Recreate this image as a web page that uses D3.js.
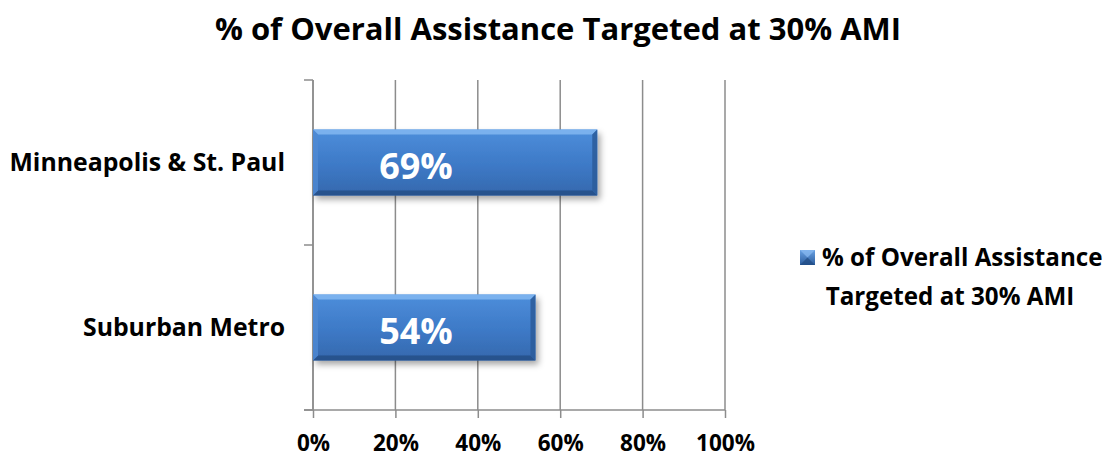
<!DOCTYPE html>
<html>
<head>
<meta charset="utf-8">
<script src="https://cdn.jsdelivr.net/npm/d3@7"></script>
<style>
  body { margin: 0; background: #fff; }
  svg { display: block; font-family: "Open Sans", sans-serif; font-weight: bold; }
</style>
</head>
<body>
<div id="chart"></div>
<script>
const categories = ['Minneapolis & St. Paul', 'Suburban Metro']
const values = [0.69, 0.54]
const valueLabels = ['69%', '54%']
const xTicks = [0, 0.2, 0.4, 0.6, 0.8, 1]
const seriesName = ['% of Overall Assistance', 'Targeted at 30% AMI']
const title = '% of Overall Assistance Targeted at 30% AMI'

const W = 1109, H = 466
const margin = {top: 80, right: 384, bottom: 56, left: 313}
const width = W - margin.left - margin.right
const height = H - margin.top - margin.bottom

const svg = d3.select('#chart').append('svg')
	.attr('width', W).attr('height', H)

const defs = svg.append('defs')
const grad = defs.append('linearGradient').attr('id', 'barGrad')
	.attr('x1', 0).attr('y1', 0).attr('x2', 0).attr('y2', 1)
grad.append('stop').attr('offset', '0%').attr('stop-color', '#4d8edb')
grad.append('stop').attr('offset', '55%').attr('stop-color', '#3d79c6')
grad.append('stop').attr('offset', '100%').attr('stop-color', '#3568ad')

const shadow = defs.append('filter').attr('id', 'shadow')
	.attr('x', '-5%').attr('y', '-20%').attr('width', '115%').attr('height', '150%')
shadow.append('feDropShadow').attr('dx', 3).attr('dy', 4).attr('stdDeviation', 3)
	.attr('flood-color', '#000').attr('flood-opacity', 0.35)

const lgGrad = defs.append('linearGradient').attr('id', 'lgGrad')
	.attr('x1', 0).attr('y1', 0).attr('x2', 0).attr('y2', 1)
lgGrad.append('stop').attr('offset', '0%').attr('stop-color', '#6aa2e4')
lgGrad.append('stop').attr('offset', '100%').attr('stop-color', '#2b5c9c')

svg.append('text')
	.attr('x', 558).attr('y', 40)
	.attr('text-anchor', 'middle')
	.style('font-size', '31px')
	.text(title)

const chart = svg.append('g').attr('transform', `translate(${margin.left},${margin.top})`)

const x = d3.scaleLinear().domain([0, 1]).range([0, width])
const y = d3.scaleBand().domain(categories).range([0, height])
	.paddingInner(0.6).paddingOuter(0.3)

// vertical gridlines
chart.append('g')
	.selectAll('line')
	.data(xTicks)
	.join('line')
	.attr('x1', d => x(d)).attr('x2', d => x(d))
	.attr('y1', 0).attr('y2', height)
	.attr('stroke', '#8c8c8c').attr('stroke-width', 1.5)

// x axis
const xAxis = chart.append('g')
	.attr('transform', `translate(0,${height})`)
	.call(d3.axisBottom(x).tickValues(xTicks).tickFormat(d3.format('.0%')).tickSize(8).tickPadding(17).tickSizeOuter(0))
xAxis.select('.domain').remove()
xAxis.selectAll('line').attr('stroke', '#8c8c8c').attr('stroke-width', 1.5)
xAxis.selectAll('text').style('font-size', '22.5px').style('font-family', '"Open Sans", sans-serif').attr('fill', '#000')
xAxis.append('line')
	.attr('x1', -9).attr('x2', width)
	.attr('stroke', '#8c8c8c').attr('stroke-width', 1.5)

// y axis (category boundaries)
const yEdges = [0, y.step(), height]
chart.append('g').selectAll('line')
	.data(yEdges)
	.join('line')
	.attr('x1', -9).attr('x2', 0)
	.attr('y1', d => d).attr('y2', d => d)
	.attr('stroke', '#8c8c8c').attr('stroke-width', 1.5)
chart.append('line')
	.attr('x1', 0).attr('x2', 0).attr('y1', 0).attr('y2', height)
	.attr('stroke', '#8c8c8c').attr('stroke-width', 1.5)

chart.append('g').selectAll('text')
	.data(categories)
	.join('text')
	.attr('x', -28)
	.attr('y', d => y(d) + y.bandwidth() / 2)
	.attr('dy', '0.35em')
	.attr('text-anchor', 'end')
	.style('font-size', '24.8px')
	.text(d => d)

// bars
const bars = chart.append('g').selectAll('g')
	.data(values)
	.join('g')
	.attr('transform', (d, i) => `translate(0,${y(categories[i])})`)

const bw = y.bandwidth()
const bev = 5
bars.append('rect')
	.attr('width', d => x(d)).attr('height', bw)
	.attr('fill', 'url(#barGrad)')
	.attr('filter', 'url(#shadow)')
// top bevel
bars.append('path')
	.attr('d', d => `M0,0H${x(d)}L${x(d) - bev},${bev}H${bev}Z`)
	.attr('fill', '#7fb5f0').attr('opacity', 0.9)
// bottom bevel
bars.append('path')
	.attr('d', d => `M0,${bw}H${x(d)}L${x(d) - bev},${bw - bev}H${bev}Z`)
	.attr('fill', '#244f87').attr('opacity', 0.85)
// right bevel
bars.append('path')
	.attr('d', d => `M${x(d)},0V${bw}L${x(d) - bev},${bw - bev}V${bev}Z`)
	.attr('fill', '#2c5d9c').attr('opacity', 0.9)
// left bevel
bars.append('path')
	.attr('d', `M0,0V${bw}L${bev},${bw - bev}V${bev}Z`)
	.attr('fill', '#4f8ad3').attr('opacity', 0.8)

bars.append('text')
	.attr('x', x(0.25))
	.attr('y', bw / 2)
	.attr('dy', '0.45em')
	.attr('text-anchor', 'middle')
	.attr('fill', '#fff')
	.style('font-size', '36px')
	.text((d, i) => valueLabels[i])

// legend
const lg = svg.append('g').attr('transform', 'translate(800,250)')
lg.append('rect').attr('width', 15).attr('height', 15).attr('fill', 'url(#lgGrad)')
lg.append('path').attr('d', 'M0,0L7.5,7.5L15,0Z').attr('fill', '#8bbcf2').attr('opacity', 0.7)
lg.append('path').attr('d', 'M0,15L7.5,7.5L15,15Z').attr('fill', '#1f4a82').attr('opacity', 0.7)
lg.append('text')
	.attr('x', 22).attr('y', 8).attr('dy', '0.35em')
	.style('font-size', '24.2px')
	.text(seriesName[0])
lg.append('text')
	.attr('x', 150).attr('y', 47).attr('dy', '0.35em')
	.attr('text-anchor', 'middle')
	.style('font-size', '24.2px')
	.text(seriesName[1])
</script>
</body>
</html>
